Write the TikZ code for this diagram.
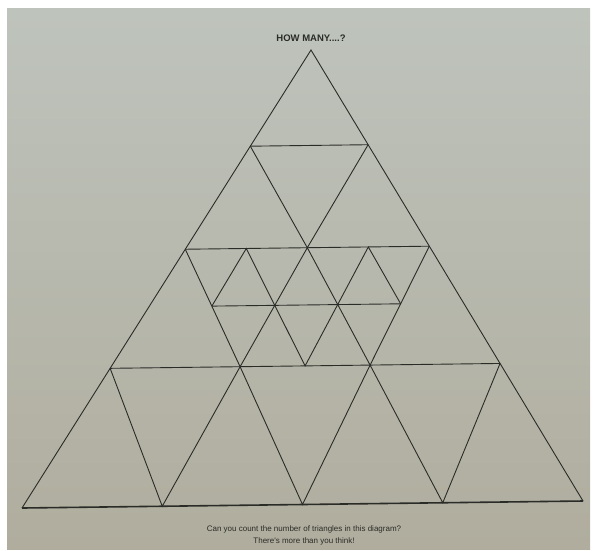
\documentclass[tikz,border=0pt]{standalone}
\usepackage{fontspec}
\newfontfamily\notefont{Liberation Sans}
\usetikzlibrary{calc}
\definecolor{woodtop}{RGB}{190,195,188}
\definecolor{woodbot}{RGB}{176,173,158}
\definecolor{ink}{RGB}{42,44,40}
\tikzset{
  edge/.style={ink, line width=0.9pt},
  baseline edge/.style={ink, line width=1.6pt},
  label text/.style={ink, font=\notefont\fontsize{8}{12}\selectfont}
}

\begin{document}
\begin{tikzpicture}[x=1pt, y=-1pt]
  \useasboundingbox (0,0) rectangle (593,550);
  \shade[top color=woodtop, bottom color=woodbot] (7,8) rectangle (590,549);
  % outer corners
  \coordinate (A)  at (311,50);
  \coordinate (BL) at (22,508);
  \coordinate (BR) at (583,501);
  % points on the two sides
  \foreach \n/\t in {1/0.21, 2/0.435, 3/0.695} {
    \coordinate (L\n) at ($(A)!\t!(BL)$);
    \coordinate (R\n) at ($(A)!\t!(BR)$);
  }
  % middle row and base row
  \foreach \i/\t in {0/0, 1/0.25, 2/0.5, 3/0.75, 4/1} {
    \coordinate (P\i) at ($(L2)!\t!(R2)$);
    \coordinate (B\i) at ($(BL)!\t!(BR)$);
  }
  \foreach \i/\t in {1/0.3333, 2/0.5, 3/0.6667}
    \coordinate (S\i) at ($(L3)!\t!(R3)$);
  \coordinate (Q2) at (intersection of P1--S2 and P2--S1);
  \coordinate (Q3) at (intersection of P3--S2 and P2--S3);
  \coordinate (Q1) at (intersection of P0--S1 and Q2--Q3);
  \coordinate (Q4) at (intersection of P4--S3 and Q2--Q3);

  \draw[edge] (BL) -- (A) -- (BR);
  \draw[baseline edge] (BL) -- (BR);
  \draw[edge] (L1) -- (R1) (L2) -- (R2) (L3) -- (R3) (Q1) -- (Q4);
  \draw[edge] (L1) -- (P2) -- (R1);
  \draw[edge] (P0) -- (S1) -- (P2) -- (S3) -- (P4);
  \draw[edge] (Q1) -- (P1) -- (S2) -- (P3) -- (Q4);
  \draw[edge] (L3) -- (B1) -- (S1) -- (B2) -- (S3) -- (B3) -- (R3);

  \node (title) [label text, font=\notefont\bfseries\fontsize{9.5}{10}\selectfont] at (311,38) {HOW MANY....?};
  \node (note) [label text, align=center] at (304,535)
    {Can you count the number of triangles in this diagram?\\There's more than you think!};
\end{tikzpicture}
\end{document}
